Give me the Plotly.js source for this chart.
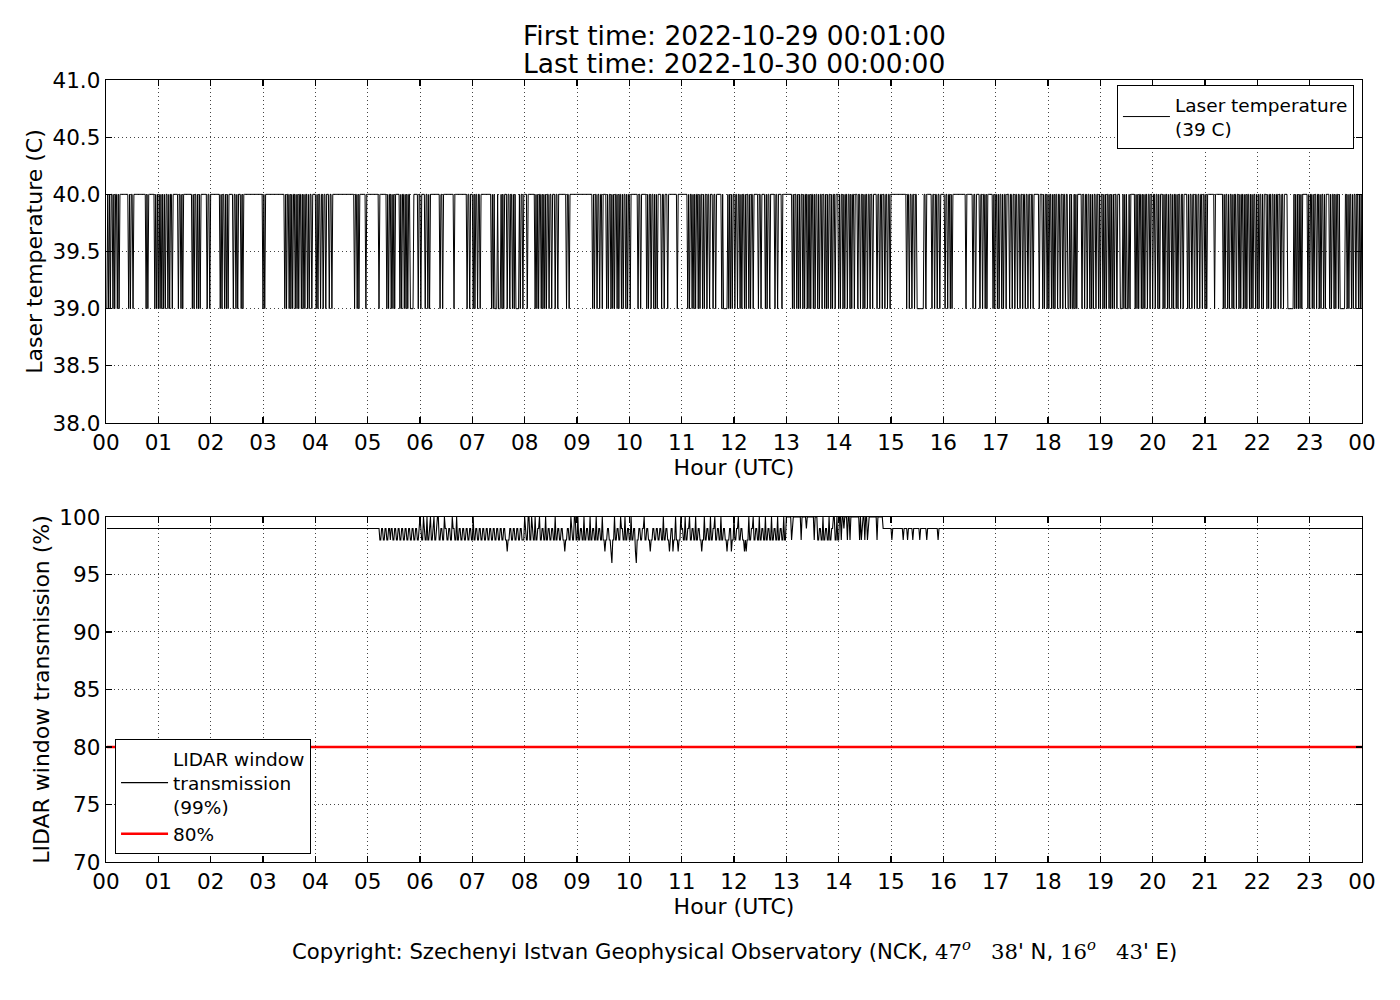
<!DOCTYPE html>
<html>
<head>
<meta charset="utf-8">
<script src="https://cdn.plot.ly/plotly-3.0.1.min.js"></script>
<style>html,body{margin:0;padding:0;background:#fff;}#chart{width:1400px;height:1000px;}</style>
</head>
<body>
<div id="chart"></div>
<script>
// ---------- DATA ----------
const hourLabels = ["00","01","02","03","04","05","06","07","08","09","10","11","12","13","14","15","16","17","18","19","20","21","22","23","00"];
const titleLine1 = "First time: 2022-10-29 00:01:00";
const titleLine2 = "Last time: 2022-10-30 00:00:00";

// minutes after 00:00 (1..1440) where the laser temperature read 39 C (otherwise 40 C)
const laserLowMinutes = [
  1,3,5,8,10,13,15,26,28,31,46,48,56,58,60,62,64,66,68,71,73,76,83,86,88,
  99,101,104,106,108,116,119,131,133,136,138,140,146,149,151,155,157,180,182,
  205,207,210,212,214,217,219,221,224,226,228,231,233,236,
  241,243,246,249,252,256,259,285,288,290,298,313,322,324,327,329,331,
  337,339,342,344,346,349,350,351,352,358,361,366,369,371,383,386,399,414,417,
  421,423,426,429,442,444,446,447,448,450,451,452,454,456,
  460,463,466,468,470,471,472,473,475,478,483,492,494,496,499,501,503,505,508,511,
  515,518,528,531,558,560,563,566,569,
  574,576,579,581,583,586,588,591,593,596,598,601,610,613,
  620,622,625,628,630,632,637,640,644,655,
  667,669,672,674,676,679,681,684,686,689,692,696,699,
  706,708,709,710,711,712,714,716,718,721,724,727,729,732,734,737,739,742,
  748,751,756,758,761,767,770,775,787,789,792,794,796,
  799,801,804,806,808,811,813,816,818,821,824,826,828,831,833,836,
  840,842,845,847,850,853,855,858,862,865,868,870,873,876,879,
  884,887,890,893,896,899,918,921,924,927,930,931,932,933,934,935,936,937,940,
  947,950,953,956,962,965,968,970,986,994,997,1002,1005,1008,1010,
  1017,1019,1022,1024,1027,1029,1032,1036,1039,1042,1045,1048,
  1051,1054,1057,1060,1063,1070,1074,1076,1079,1081,1084,1086,1088,
  1091,1094,1097,1100,1103,1104,1106,1108,1109,1111,1113,1119,1122,1125,
  1128,1130,1132,1135,1138,1140,1143,1145,1147,1150,1152,1154,1156,1159,
  1163,1164,1165,1167,1169,1171,1172,1174,1180,1182,1184,1187,1189,1191,1194,1197,
  1200,1203,1206,1208,1212,1214,1217,1219,1222,1224,1227,1229,1232,1235,
  1240,1242,1245,1248,1251,1254,1257,1260,1262,1271,
  1281,1283,1286,1288,1291,1293,1296,
  1299,1301,1304,1306,1308,1311,1313,1315,1318,1320,1322,1325,1327,
  1331,1333,1336,1339,1341,1344,1347,1350,1355,1356,1357,1358,1359,1360,1361,
  1363,1365,1367,1369,1371,1378,1380,1383,1385,1388,1391,1393,1396,1398,
  1403,1405,1408,1410,1413,1415,1416,1417,1418,1419,1420,
  1423,1425,1428,1430,1433,1436,1438,1440
];

// LIDAR window transmission: [minute, value] change points (value holds until next change)
const transStart = 99;
const transChanges = [
  [314,98],[316,99],[318,98],[320,99],[322,98],[324,99],[326,98],[327,99],[329,98],[331,99],
  [333,98],[335,99],[337,98],[339,99],[341,98],[343,99],[345,98],[347,99],[349,98],[351,99],
  [353,98],[355,99],[357,98],[359,99],[360,100],[361,99],[362,98],[364,100],[365,99],[366,98],
  [368,100],[369,98],[371,99],[372,100],[373,98],[375,99],[376,100],[377,98],[379,99],[380,100],
  [382,98],[384,99],[386,98],[388,100],[389,99],[391,98],[393,99],[395,98],[397,100],[398,99],
  [400,98],[402,100],[403,98],[405,99],[407,98],[409,99],[411,98],[413,99],[415,98],[417,99],
  [419,98],[421,100],[422,98],[424,99],[426,98],[428,99],[430,98],[432,99],[434,98],[436,99],
  [438,98],[440,99],[442,98],[444,99],[446,98],[448,99],[450,98],[452,99],[454,98],[456,99],
  [458,98],[460,97],[461,98],[463,99],[465,98],[467,99],[469,98],[471,99],[473,98],[475,99],
  [477,98],[480,100],[481,99],[482,98],[484,100],[486,98],[488,100],[489,99],[490,98],[492,100],
  [493,98],[495,99],[497,100],[498,98],[500,99],[502,98],[504,100],[505,98],[507,99],[509,98],
  [511,99],[513,98],[515,100],[516,98],[518,99],[520,98],[522,99],[524,98],[526,97],[527,98],
  [529,99],[531,98],[533,100],[534,99],[535,98],[537,100],[539,98],[541,100],[542,98],[544,99],
  [546,98],[548,100],[549,98],[551,99],[553,98],[555,100],[556,98],[558,99],[560,98],[562,100],
  [563,98],[565,99],[567,98],[569,100],[570,98],[572,97],[573,98],[575,99],[577,98],[579,97],
  [580,96],[581,98],[583,100],[584,98],[586,99],[588,98],[590,100],[591,99],[593,98],[595,100],
  [596,98],[598,99],[600,98],[602,100],[603,98],[605,99],[607,97],[608,96],[609,98],[611,99],
  [613,98],[615,99],[617,100],[618,98],[620,99],[622,98],[624,97],[625,98],[627,99],[629,98],
  [631,99],[633,98],[635,99],[637,98],[639,100],[640,98],[642,99],[644,98],[646,97],[647,98],
  [648,99],[650,97],[651,98],[653,100],[654,98],[656,97],[657,98],[659,100],[660,99],[662,98],
  [664,100],[665,98],[667,99],[669,100],[670,98],[672,99],[674,98],[676,100],[677,98],[679,99],
  [681,98],[683,97],[684,98],[686,100],[687,98],[689,99],[691,98],[693,100],[694,98],[696,99],
  [698,100],[699,98],[701,99],[703,98],[705,100],[706,98],[708,99],[710,98],[712,97],[713,98],
  [715,99],[717,97],[718,98],[720,100],[721,98],[723,99],[725,100],[726,98],[728,99],[730,98],
  [732,97],[733,98],[734,97],[735,98],[737,100],[738,98],[740,99],[742,100],[743,98],[745,99],
  [747,98],[749,100],[750,98],[752,99],[754,98],[756,100],[757,98],[759,99],[761,98],[763,100],
  [764,98],[766,99],[768,98],[770,100],[771,98],[773,99],[775,98],[777,100],[778,98],[780,100],
  [786,98],[787,99],[788,100],[797,98],[798,100],[803,99],[804,100],[812,98],[813,100],[816,98],
  [818,99],[820,98],[822,100],[823,98],[825,99],[827,98],[829,100],[830,98],[832,99],[834,100],
  [836,98],[838,100],[839,98],[841,100],[843,98],[844,100],[846,99],[847,100],[850,98],[851,100],
  [853,98],[854,100],[864,98],[865,100],[866,98],[867,99],[868,100],[870,98],[871,100],[873,98],
  [874,99],[875,100],[884,98],[885,100],[891,99],[901,98],[902,99],[914,98],[915,99],[919,98],
  [920,99],[925,98],[926,99],[933,98],[934,99],[941,98],[942,99],[954,98],[955,99]
];
const transThreshold = 80;
const copyrightText = "Copyright: Szechenyi Istvan Geophysical Observatory (NCK, " +
  "<span style=\"font-family:DejaVu Serif\">47<sup><i>o</i></sup>&nbsp;&nbsp;&nbsp;38</span>' N, " +
  "<span style=\"font-family:DejaVu Serif\">16<sup><i>o</i></sup>&nbsp;&nbsp;&nbsp;43</span>' E)";

// ---------- BUILD SERIES ----------
const lowSet = new Set(laserLowMinutes);
const xs = [], laserY = [], transY = [], threshY = [];
let ci = 0, cur = transStart;
for (let m = 1; m <= 1440; m++) {
  xs.push(m / 60);
  laserY.push(lowSet.has(m) ? 39 : 40);
  while (ci < transChanges.length && transChanges[ci][0] <= m) { cur = transChanges[ci][1]; ci++; }
  transY.push(cur);
  threshY.push(transThreshold);
}

const FONT = "DejaVu Sans";
const tickFont = {family: FONT, size: 21.5, color: "#000"};
const titleFont = {family: FONT, size: 22, color: "#000"};
const hourTicks = hourLabels.map((_, i) => i);
const gridStyle = {showgrid: true, gridcolor: "#444", griddash: "1px,3px", gridwidth: 1};

function xAxis(anchor) {
  return Object.assign({
    anchor: anchor, range: [0, 24], tickvals: hourTicks, ticktext: hourLabels,
    ticks: "inside", ticklen: 6, tickwidth: 1.2, tickcolor: "#000", mirror: "ticks",
    showline: true, linecolor: "#000", linewidth: 1.3,
    zeroline: false, tickfont: tickFont,
    title: {text: "Hour (UTC)", font: titleFont, standoff: 2}
  }, gridStyle);
}
function yAxis(anchor, domain, range, dtick, fmt, title) {
  return Object.assign({
    domain: domain, anchor: anchor, range: range, tick0: range[0], dtick: dtick, tickformat: fmt,
    ticks: "inside", ticklen: 6, tickwidth: 1.2, tickcolor: "#000", mirror: "ticks",
    showline: true, linecolor: "#000", linewidth: 1.3,
    zeroline: false, tickfont: tickFont,
    title: {text: title, font: titleFont, standoff: 3}
  }, gridStyle);
}

const traces = [
  {x: xs, y: laserY, type: "scatter", mode: "lines", xaxis: "x", yaxis: "y",
   line: {color: "#000", width: 1}, name: "Laser temperature<br>(39 C)", legend: "legend", hoverinfo: "skip"},
  {x: xs, y: transY, type: "scatter", mode: "lines", xaxis: "x2", yaxis: "y2",
   line: {color: "#000", width: 1.1}, name: "LIDAR window<br>transmission<br>(99%)", legend: "legend2", hoverinfo: "skip"},
  {x: xs, y: threshY, type: "scatter", mode: "lines", xaxis: "x2", yaxis: "y2",
   line: {color: "#ff0000", width: 2.6}, name: "80%", legend: "legend2", hoverinfo: "skip"}
];

const legendFont = {family: FONT, size: 18.5, color: "#000"};
const layout = {
  width: 1400, height: 1000,
  paper_bgcolor: "#fff", plot_bgcolor: "#fff",
  margin: {l: 106, r: 38, t: 80, b: 138},
  font: {family: FONT, color: "#000"},
  showlegend: true,
  xaxis: xAxis("y"),
  xaxis2: xAxis("y2"),
  yaxis: yAxis("x", [0.5614, 1], [38, 41], 0.5, ".1f", "Laser temperature (C)"),
  yaxis2: yAxis("x2", [0, 0.4412], [70, 100], 5, "d", "LIDAR window transmission (%)"),
  legend: {
    x: 0.9936, y: 0.9936, xanchor: "right", yanchor: "top", xref: "paper", yref: "paper",
    bgcolor: "#fff", bordercolor: "#000", borderwidth: 1, font: legendFont, itemwidth: 47
  },
  legend2: {
    x: 0.0072, y: 0.0102, xanchor: "left", yanchor: "bottom", xref: "paper", yref: "paper",
    bgcolor: "#fff", bordercolor: "#000", borderwidth: 1, font: legendFont, itemwidth: 47
  },
  annotations: [
    {text: titleLine1, xref: "paper", yref: "paper", x: 0.5, y: 1.0575, xanchor: "center", yanchor: "middle",
     showarrow: false, font: {family: FONT, size: 26.5, color: "#000"}},
    {text: titleLine2, xref: "paper", yref: "paper", x: 0.5, y: 1.0205, xanchor: "center", yanchor: "middle",
     showarrow: false, font: {family: FONT, size: 26.5, color: "#000"}},
    {text: copyrightText, xref: "paper", yref: "paper", x: 0.5, y: -0.1125, xanchor: "center", yanchor: "middle",
     showarrow: false, font: {family: FONT, size: 21.2, color: "#000"}}
  ]
};

Plotly.newPlot("chart", traces, layout, {staticPlot: true, displayModeBar: false});
</script>
</body>
</html>
